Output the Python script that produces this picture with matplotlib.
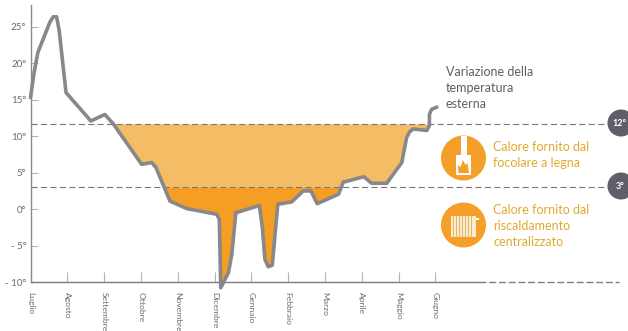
import numpy as np
import matplotlib
matplotlib.use('Agg')
import matplotlib.pyplot as plt
from matplotlib.patches import Circle, Rectangle, Polygon

plt.rcParams['font.family'] = ['Lato', 'DejaVu Sans']
plt.rcParams['path.simplify'] = False

W, H = 628, 331

months = ['Luglio', 'Agosto', 'Settembre', 'Ottobre', 'Novembre', 'Dicembre',
          'Gennaio', 'Febbraio', 'Marzo', 'Aprile', 'Maggio', 'Giugno']
y_ticks = [-10, -5, 0, 5, 10, 15, 20, 25]
y_labels = ['- 10°', '- 5°', '0°', '5°', '10°', '15°', '20°', '25°']

# month position, temperature
temp_x = [0.0, 0.1, 0.2, 0.53, 0.62, 0.71, 0.78, 0.965, 1.64, 2.02, 2.25, 3.02, 3.29, 3.41,
          3.79, 4.24, 5.06, 5.13, 5.17, 5.38, 5.47, 5.58, 6.22, 6.3, 6.37, 6.46, 6.57, 6.72,
          7.1, 7.41, 7.62, 7.79, 8.37, 8.5, 9.06, 9.27, 9.68, 10.09, 10.22, 10.3, 10.4,
          10.77, 10.84, 10.84, 10.9, 11.04]
temp_y = [15.3, 18.8, 21.5, 25.7, 26.4, 26.4, 24.5, 16.0, 12.1, 13.0, 11.7, 6.15, 6.4, 5.7,
          1.1, 0.08, -0.7, -1.4, -10.8, -8.7, -6.2, -0.5, 0.5, -2.5, -6.9, -7.9, -7.7, 0.67,
          1.0, 2.5, 2.5, 0.75, 2.05, 3.7, 4.45, 3.55, 3.55, 6.4, 9.8, 10.6, 11.0,
          10.8, 11.5, 13.0, 13.7, 14.0]
wood_limit = 11.7
heating_limit = 3.0

GRAY = '#88878b'
TEXT = '#6b6b6b'
LIGHT = '#f5bc66'
DARK = '#f59e23'
YELLOW = '#e3a92e'
ICON = '#f59f2b'
BADGE = '#5e5f68'

fig = plt.figure(figsize=(W / 100, H / 100), dpi=100)

# axes placed so that month 0 = 30.5 px, -10° = 282 px, 28° = 5 px
x0, px_month = 30.5, 36.8
ax = fig.add_axes([x0 / W, (H - 282) / H, 1 - x0 / W, 277 / H])
ax.set_xlim(0, (W - x0) / px_month)
ax.set_ylim(-10, -10 + 277 / 7.286)
ax.patch.set_alpha(0)

x = np.array(temp_x)
y = np.array(temp_y)
ax.fill_between(x, y, wood_limit, where=y < wood_limit, interpolate=True, color=LIGHT, lw=0)
ax.fill_between(x, y, heating_limit, where=y < heating_limit, interpolate=True, color=DARK, lw=0)
ax.plot(temp_x, temp_y, color=GRAY, lw=2.6, solid_joinstyle='round', solid_capstyle='round',
        clip_on=False, zorder=4)

for level in (wood_limit, heating_limit):
    ax.plot([0, 15.9], [level, level], color='#77777b', lw=0.8, dashes=(5.5, 3), zorder=3)

for s in ('top', 'right'):
    ax.spines[s].set_visible(False)
ax.spines['left'].set_color('#8b8b8b')
ax.spines['bottom'].set_color('#7d7d7d')
ax.spines['left'].set_linewidth(1.0)
ax.spines['bottom'].set_bounds(0, 12.2)
ax.spines['bottom'].set_linewidth(1.0)
ax.plot([12.2, 16], [-10, -10], color='#7d7d7d', lw=1.0, dashes=(5, 2), clip_on=False)

ax.set_yticks(y_ticks, y_labels)
ax.set_xticks(range(12), months)
ax.tick_params(axis='y', direction='in', length=5, color='#b5b5b5', labelsize=7,
               labelcolor=TEXT, pad=3)
ax.tick_params(axis='x', direction='in', length=7, color='#b5b5b5', labelsize=6.1,
               labelcolor=TEXT, pad=7)
for lab in ax.get_xticklabels():
    lab.set_rotation(-90)
    lab.set_ha('center')
    lab.set_va('top')

# overlay in pixel coordinates for the legend icons and notes
ov = fig.add_axes([0, 0, 1, 1])
ov.set_xlim(0, W)
ov.set_ylim(H, 0)
ov.axis('off')
ov.patch.set_alpha(0)

for cy, label, lx in ((123, '12°', 619), (186, '3°', 620)):
    ov.add_patch(Circle((621, cy), 13.5, color=BADGE, lw=0))
    ov.text(lx, cy + 0.5, label, color='white', fontsize=6.5, ha='center', va='center',
            fontweight='bold')

# fireplace icon
ov.add_patch(Circle((463.5, 158), 22.5, color=ICON, lw=0))
ov.add_patch(Rectangle((460.5, 136), 6, 22, color='white', lw=0))
ov.add_patch(Rectangle((456, 155), 15, 19.5, color='white', lw=0))
ov.add_patch(Polygon([(458.5, 173), (458, 165), (460.5, 167), (463, 160), (465.5, 165),
                      (467.5, 163), (469, 173)], color=ICON, lw=0))

# radiator icon
ov.add_patch(Circle((463.5, 225), 22.5, color=ICON, lw=0))
ov.add_patch(Rectangle((451, 216), 25, 21, color='#fbeccf', lw=0))
for bx in np.arange(453, 474, 3):
    ov.add_patch(Rectangle((bx, 216), 1.1, 21, color='#e6b667', lw=0))
ov.add_patch(Rectangle((476, 218), 3, 1.8, color='white', lw=0))

ov.text(446, 88, 'Variazione della\ntemperatura\nesterna', color='#5f5f5f', fontsize=9,
        ha='left', va='center', linespacing=1.42)
ov.text(493, 155, 'Calore fornito dal\nfocolare a legna', color=YELLOW, fontsize=9,
        ha='left', va='center', linespacing=1.42)
ov.text(493, 226, 'Calore fornito dal\nriscaldamento\ncentralizzato', color=YELLOW, fontsize=9,
        ha='left', va='center', linespacing=1.42)

fig.savefig('out.png', dpi=100)
